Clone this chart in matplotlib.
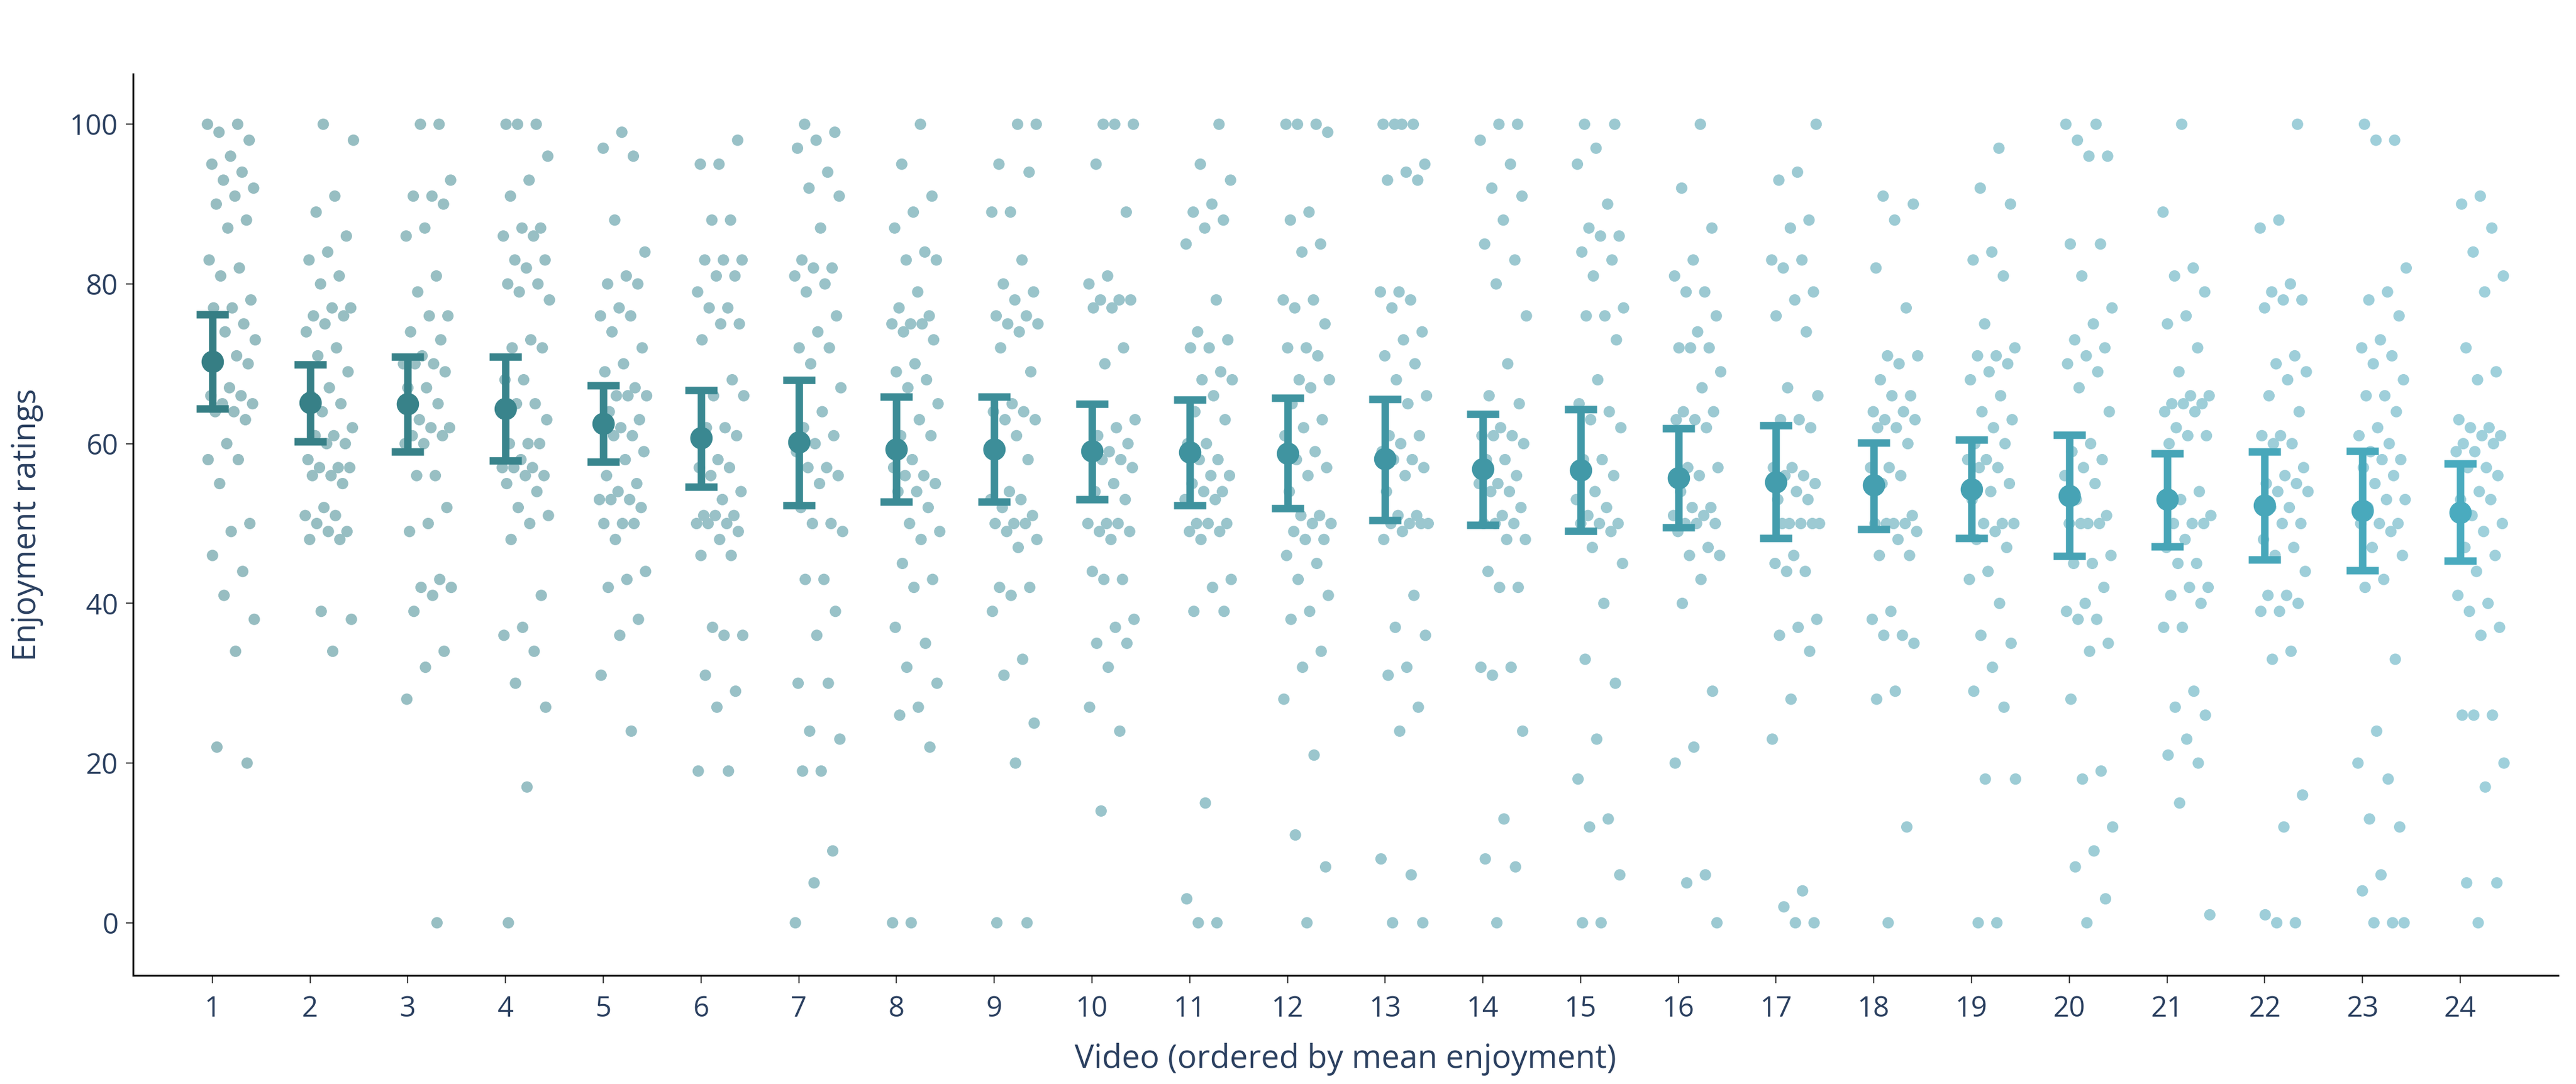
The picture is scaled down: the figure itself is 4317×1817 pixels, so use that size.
import numpy as np
import matplotlib
matplotlib.use("Agg")
import matplotlib.pyplot as plt

# enjoyment ratings per video (videos ordered by mean)
v01 = [100, 100, 99, 98, 96, 95, 94, 93, 92, 91, 90, 88, 87, 83, 82, 81, 78, 77, 77, 75, 74, 73, 71, 70, 70,
       67, 66, 66, 65, 65, 64, 64, 63, 60, 58, 58, 55, 50, 49, 46, 44, 41, 38, 34, 22, 20]
v02 = [100, 98, 91, 89, 86, 84, 83, 81, 80, 77, 77, 76, 76, 75, 74, 72, 71, 69, 67, 66, 65, 64, 62, 61, 61,
       60, 60, 58, 57, 57, 57, 56, 56, 55, 52, 51, 51, 50, 49, 49, 48, 48, 39, 38, 34]
v03 = [100, 100, 93, 91, 91, 90, 87, 86, 81, 79, 76, 76, 74, 73, 71, 70, 70, 70, 69, 67, 67, 65, 63, 62, 62,
       61, 61, 60, 60, 56, 56, 52, 50, 49, 43, 42, 42, 41, 39, 34, 32, 28, 0]
v04 = [100, 100, 100, 96, 93, 91, 87, 87, 86, 86, 83, 83, 82, 80, 80, 79, 78, 73, 72, 72, 68, 68, 65, 65, 63,
       60, 60, 60, 58, 57, 57, 57, 56, 56, 55, 54, 52, 51, 50, 48, 41, 37, 36, 34, 30, 27, 17, 0]
v05 = [99, 97, 96, 88, 84, 81, 80, 80, 77, 76, 76, 74, 72, 70, 69, 67, 66, 66, 66, 64, 63, 62, 62, 61, 61,
       59, 58, 56, 55, 54, 53, 53, 53, 52, 50, 50, 50, 48, 44, 43, 42, 38, 36, 31, 24]
v06 = [98, 95, 95, 88, 88, 83, 83, 83, 81, 81, 79, 77, 77, 75, 75, 73, 68, 66, 66, 62, 62, 61, 58, 57, 57,
       56, 54, 53, 51, 51, 51, 50, 50, 50, 49, 48, 46, 46, 37, 36, 36, 31, 29, 27, 19, 19]
v07 = [100, 99, 98, 97, 94, 92, 91, 87, 83, 82, 82, 81, 80, 79, 76, 74, 72, 72, 70, 67, 64, 62, 61, 60, 59,
       57, 57, 56, 55, 52, 50, 50, 49, 43, 43, 39, 36, 30, 30, 24, 23, 19, 19, 9, 5, 0]
v08 = [100, 95, 91, 89, 87, 84, 83, 83, 79, 77, 76, 75, 75, 75, 74, 73, 70, 69, 68, 67, 65, 63, 61, 61, 58,
       57, 56, 56, 55, 54, 54, 52, 50, 49, 48, 45, 43, 42, 37, 35, 32, 30, 27, 26, 22, 0, 0]
v09 = [100, 100, 95, 94, 89, 89, 83, 80, 79, 78, 76, 76, 75, 75, 74, 72, 69, 65, 64, 64, 63, 63, 61, 59, 58,
       54, 53, 53, 52, 51, 50, 50, 50, 49, 48, 47, 42, 42, 41, 39, 33, 31, 25, 20, 0, 0]
v10 = [100, 100, 100, 95, 89, 81, 80, 78, 78, 78, 77, 77, 72, 70, 63, 62, 61, 60, 59, 59, 58, 58, 57, 55, 54,
       53, 50, 50, 50, 49, 49, 48, 44, 43, 43, 38, 37, 35, 35, 32, 27, 24, 14]
v11 = [100, 95, 93, 90, 89, 88, 87, 85, 78, 74, 73, 72, 72, 69, 68, 68, 66, 64, 63, 60, 60, 58, 58, 56, 56,
       55, 54, 54, 53, 53, 50, 50, 50, 49, 49, 48, 43, 42, 39, 39, 15, 3, 0, 0]
v12 = [100, 100, 100, 99, 89, 88, 85, 84, 78, 78, 77, 75, 72, 72, 71, 68, 68, 67, 65, 63, 62, 61, 59, 58, 57,
       56, 54, 51, 51, 50, 50, 49, 48, 48, 46, 45, 43, 41, 39, 38, 34, 32, 28, 21, 11, 7, 0]
v13 = [100, 100, 100, 100, 95, 94, 93, 93, 79, 79, 78, 77, 74, 73, 71, 70, 68, 66, 65, 61, 61, 60, 59, 58, 58,
       57, 56, 54, 51, 51, 50, 50, 50, 50, 49, 48, 41, 37, 36, 32, 31, 27, 24, 8, 6, 0, 0]
v14 = [100, 100, 98, 95, 92, 91, 88, 85, 83, 80, 76, 70, 66, 65, 62, 61, 61, 61, 60, 58, 58, 56, 55, 55, 54,
       54, 52, 51, 50, 50, 50, 48, 48, 44, 42, 42, 32, 32, 31, 24, 13, 8, 7, 0]
v15 = [100, 100, 97, 95, 90, 87, 86, 86, 84, 83, 81, 77, 76, 76, 73, 68, 65, 64, 63, 62, 58, 58, 56, 54, 53,
       52, 51, 50, 50, 50, 49, 47, 45, 40, 33, 30, 23, 18, 13, 12, 6, 0, 0]
v16 = [100, 92, 87, 83, 81, 79, 79, 76, 74, 72, 72, 72, 69, 67, 64, 64, 63, 63, 62, 57, 57, 56, 54, 52, 52,
       51, 51, 50, 50, 50, 49, 47, 46, 46, 43, 40, 29, 22, 20, 6, 5, 0]
v17 = [100, 94, 93, 88, 87, 83, 83, 82, 79, 78, 76, 74, 67, 66, 63, 63, 62, 57, 57, 56, 56, 55, 54, 53, 53,
       50, 50, 50, 50, 50, 46, 45, 44, 44, 38, 37, 36, 34, 28, 23, 4, 2, 0, 0]
v18 = [91, 90, 88, 82, 77, 71, 71, 70, 68, 66, 66, 64, 64, 63, 63, 62, 62, 60, 57, 57, 56, 55, 51, 50, 50,
       50, 50, 49, 48, 46, 46, 39, 38, 36, 36, 35, 29, 28, 12, 0]
v19 = [97, 92, 90, 84, 83, 81, 75, 72, 71, 71, 70, 69, 68, 66, 64, 63, 62, 60, 60, 58, 58, 57, 57, 55, 54,
       53, 50, 50, 50, 49, 48, 47, 44, 43, 40, 36, 35, 32, 29, 27, 18, 18, 0, 0]
v20 = [100, 100, 98, 96, 96, 85, 85, 81, 77, 75, 73, 72, 71, 70, 69, 67, 64, 60, 59, 58, 57, 56, 55, 53, 51,
       50, 50, 50, 50, 46, 45, 45, 42, 40, 39, 38, 38, 35, 34, 28, 19, 18, 12, 9, 7, 3, 0]
v21 = [100, 89, 82, 81, 79, 76, 75, 72, 69, 66, 66, 65, 65, 65, 64, 64, 62, 61, 61, 60, 54, 53, 51, 50, 50,
       50, 48, 47, 45, 45, 42, 42, 41, 40, 37, 37, 29, 27, 26, 23, 21, 20, 15, 1]
v22 = [100, 88, 87, 80, 79, 78, 78, 77, 71, 70, 69, 68, 66, 64, 61, 61, 60, 60, 57, 56, 55, 55, 54, 54, 52,
       52, 50, 50, 48, 47, 46, 44, 41, 41, 40, 39, 39, 34, 33, 16, 12, 1, 0, 0]
v23 = [100, 98, 98, 82, 79, 78, 76, 73, 72, 71, 70, 68, 66, 66, 64, 62, 61, 60, 59, 58, 58, 57, 56, 55, 53,
       53, 52, 50, 50, 50, 49, 47, 46, 43, 42, 33, 24, 20, 18, 13, 12, 6, 4, 0, 0, 0]
v24 = [91, 90, 87, 84, 81, 79, 72, 69, 68, 63, 62, 62, 61, 61, 60, 60, 59, 59, 57, 57, 56, 54, 53, 53, 51,
       50, 49, 47, 46, 44, 41, 40, 39, 37, 36, 26, 26, 26, 20, 17, 5, 5, 0]

ratings = [v01, v02, v03, v04, v05, v06, v07, v08, v09, v10, v11, v12,
           v13, v14, v15, v16, v17, v18, v19, v20, v21, v22, v23, v24]

# mean and 95% CI as drawn in the reference
means = [70.3, 65.1, 65.0, 64.4, 62.5, 60.7, 60.2, 59.3, 59.3, 59.1, 58.9, 58.8,
         58.1, 56.8, 56.7, 55.7, 55.2, 54.8, 54.3, 53.5, 53.0, 52.3, 51.6, 51.4]
ci_low = [64.4, 60.3, 59.0, 57.9, 57.7, 54.6, 52.3, 52.7, 52.7, 53.0, 52.3, 51.9,
          50.4, 49.8, 49.1, 49.5, 48.2, 49.3, 48.2, 45.9, 47.1, 45.5, 44.1, 45.3]
ci_high = [76.2, 69.9, 70.9, 70.9, 67.3, 66.7, 68.0, 65.9, 65.9, 65.0, 65.5, 65.7,
           65.6, 63.7, 64.3, 61.9, 62.3, 60.1, 60.5, 61.1, 58.8, 59.0, 59.1, 57.5]

videos = list(range(1, 25))
y_ticks = [0, 20, 40, 60, 80, 100]

text_col = "#2a3f5f"
plt.rcParams["font.family"] = ["Open Sans", "DejaVu Sans"]

# colours shift from dark teal (video 1) to lighter blue-teal (video 24)
t = np.linspace(0, 1, len(videos))
dark_a, dark_b = np.array([54, 126, 132]), np.array([74, 171, 191])
light_a, light_b = np.array([151, 189, 193]), np.array([159, 208, 219])
mean_cols = [tuple((dark_a + (dark_b - dark_a) * f) / 255) for f in t]
pt_cols = [tuple((light_a + (light_b - light_a) * f) / 255) for f in t]

fig = plt.figure(figsize=(43.17, 18.17), dpi=100)
ax = fig.add_axes([0.0517, 0.1001, 0.9413, 0.8317])

for k, (v, vals) in enumerate(zip(videos, ratings)):
    n = len(vals)
    # spread the points sideways (mostly right of the mean) so they don't overlap
    off = -0.05 + 0.5 * ((np.arange(n) * 0.618034 + k * 0.37) % 1.0)
    ax.scatter(v + off, vals, s=190, color=pt_cols[k], edgecolors="none", zorder=2)
    err = [[means[k] - ci_low[k]], [ci_high[k] - means[k]]]
    ax.errorbar([v], [means[k]], yerr=err, fmt="o", color=mean_cols[k],
                markersize=26, elinewidth=9, capsize=19.5, capthick=9,
                zorder=3)

ax.set_xlim(0.19, 25.0)
ax.set_ylim(-6.6, 106.3)
ax.set_xticks(videos)
ax.set_yticks(y_ticks)

for side in ["top", "right"]:
    ax.spines[side].set_visible(False)
for side in ["left", "bottom"]:
    ax.spines[side].set_linewidth(2.2)
    ax.spines[side].set_color("black")

ax.tick_params(axis="both", length=9, width=1.6, color="#444444",
               labelsize=34, labelcolor=text_col, pad=9)
ax.tick_params(axis="x", pad=14)

ax.set_xlabel("Video (ordered by mean enjoyment)", fontsize=39, color=text_col, labelpad=24)
ax.set_ylabel("Enjoyment ratings", fontsize=39, color=text_col, labelpad=32)

fig.savefig("out.png", dpi=100)
